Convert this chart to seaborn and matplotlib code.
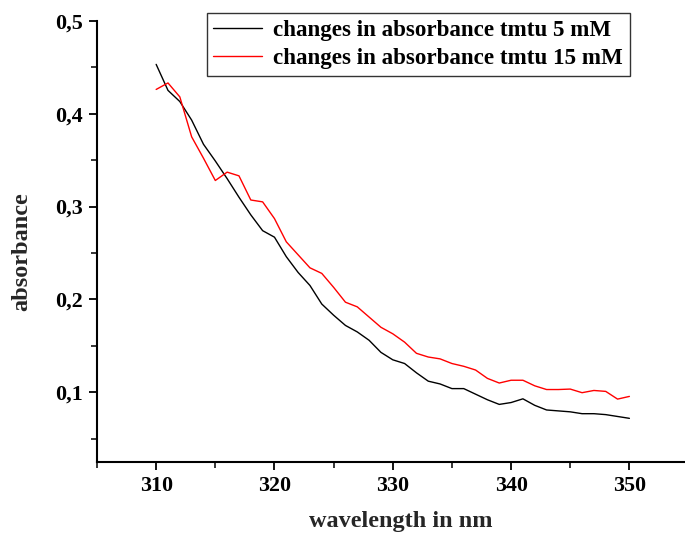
import matplotlib
matplotlib.use("Agg")
import matplotlib.pyplot as plt
import seaborn as sns
import pandas as pd
import numpy as np
from matplotlib.ticker import FixedLocator

wavelength = list(range(310, 351))
abs_5mM = [0.453, 0.425, 0.413, 0.393, 0.367, 0.349, 0.330, 0.310, 0.291, 0.274,
           0.267, 0.246, 0.229, 0.215, 0.195, 0.183, 0.172, 0.165, 0.156, 0.143,
           0.135, 0.131, 0.121, 0.112, 0.109, 0.104, 0.104, 0.098, 0.092, 0.087,
           0.089, 0.093, 0.086, 0.081, 0.080, 0.079, 0.077, 0.077, 0.076, 0.074, 0.072]
abs_15mM = [0.426, 0.433, 0.418, 0.375, 0.352, 0.328, 0.337, 0.333, 0.307, 0.305,
            0.287, 0.262, 0.248, 0.234, 0.228, 0.213, 0.197, 0.192, 0.181, 0.170,
            0.163, 0.154, 0.142, 0.138, 0.136, 0.131, 0.128, 0.124, 0.115, 0.110,
            0.113, 0.113, 0.107, 0.103, 0.103, 0.1035, 0.0996, 0.102, 0.101, 0.0927, 0.0956]
series_names = ["changes in absorbance tmtu 5 mM", "changes in absorbance tmtu 15 mM"]
x_ticks = [310, 320, 330, 340, 350]
x_tick_labels = ["310", "320", "330", "340", "350"]
y_ticks = [0.1, 0.2, 0.3, 0.4, 0.5]
y_tick_labels = ["0,1", "0,2", "0,3", "0,4", "0,5"]

df = pd.DataFrame({
    "wavelength": wavelength * 2,
    "absorbance": abs_5mM + abs_15mM,
    "series": [series_names[0]] * len(wavelength) + [series_names[1]] * len(wavelength),
})

sns.set_style("ticks")
plt.rcParams["font.family"] = ["Liberation Serif", "DejaVu Serif"]
plt.rcParams["font.weight"] = "bold"
plt.rcParams["text.color"] = "black"

fig = plt.figure(figsize=(6.85, 5.35), dpi=100)
ax = fig.add_axes([97 / 685, (535 - 462) / 535, 588 / 685, (462 - 20.7) / 535])

sns.lineplot(data=df, x="wavelength", y="absorbance", hue="series",
             palette={series_names[0]: "black", series_names[1]: "#ff0000"},
             linewidth=1.0, ax=ax, legend=False)

ax.set_xlim(305, 354.7)
ax.set_ylim(0.025, 0.5)
ax.xaxis.set_major_locator(FixedLocator(x_ticks))
ax.set_xticklabels(x_tick_labels)
ax.yaxis.set_major_locator(FixedLocator(y_ticks))
ax.set_yticklabels(y_tick_labels)
ax.xaxis.set_minor_locator(FixedLocator([305, 315, 325, 335, 345]))
ax.yaxis.set_minor_locator(FixedLocator([0.05, 0.15, 0.25, 0.35, 0.45]))

for s in ["top", "right"]:
    ax.spines[s].set_visible(False)
for s in ["left", "bottom"]:
    ax.spines[s].set_linewidth(1.5)
    ax.spines[s].set_color("black")

ax.tick_params(axis="both", which="major", direction="out", length=6, width=1.3,
               labelsize=15.8, colors="black", pad=4)
ax.tick_params(axis="both", which="minor", direction="out", length=4, width=1.3)
for lab in ax.get_xticklabels() + ax.get_yticklabels():
    lab.set_fontweight("bold")

ax.set_xlabel("wavelength in nm", fontsize=17.5, fontweight="bold")
ax.set_ylabel("absorbance", fontsize=17.5, fontweight="bold")
ax.xaxis.set_label_coords((401 - 97) / 588, (462 - 521) / 441.3)
ax.yaxis.set_label_coords((22 - 97) / 588, (462 - 252) / 441.3)
ax.xaxis.label.set_verticalalignment("center")
ax.yaxis.label.set_verticalalignment("center")

handles = [plt.Line2D([], [], color="black", lw=1.0),
           plt.Line2D([], [], color="#ff0000", lw=1.0)]
leg = ax.legend(handles, series_names, loc="upper left",
                bbox_to_anchor=(207 / 685, 1 - 13 / 535), bbox_transform=fig.transFigure,
                frameon=True, fancybox=False, shadow=False,
                prop={"weight": "bold", "size": 16.6}, borderpad=0.28,
                handlelength=2.1, handletextpad=0.5, labelspacing=0.32,
                borderaxespad=0)
leg.get_frame().set_edgecolor("black")
leg.get_frame().set_linewidth(1.0)

fig.savefig("out.png", dpi=100)
